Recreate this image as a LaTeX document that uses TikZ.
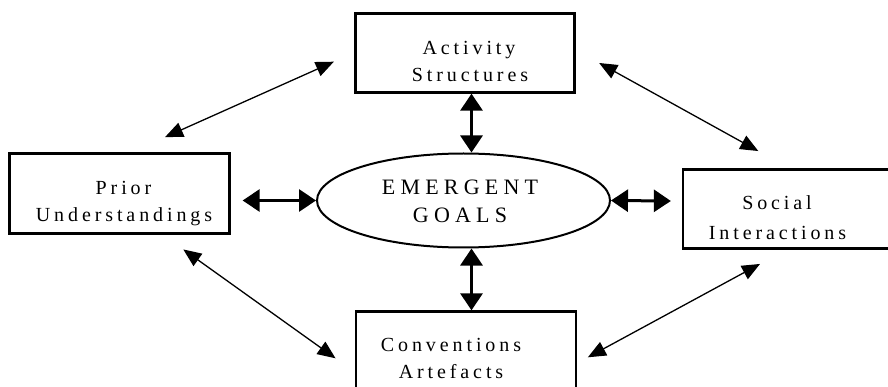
\documentclass[tikz,border=0pt]{standalone}
\usepackage{fontspec}
\setmainfont{Liberation Serif}
\newfontfamily\boxfont[LetterSpace=19.5]{Liberation Serif}
\newfontfamily\ellfont[LetterSpace=23.6]{Liberation Serif}
\usetikzlibrary{shapes.geometric,arrows.meta,calc}
\tikzset{
  boxnode/.style={draw=black,line width=2.3pt,rectangle,inner sep=0pt,minimum width=219pt,minimum height=79pt},
  ellnode/.style={draw=black,line width=2pt,ellipse,inner sep=0pt,minimum width=293pt,minimum height=94pt},
  btxt/.style={anchor=base,inner sep=0pt,font=\boxfont\fontsize{20pt}{24pt}\selectfont},
  etxt/.style={anchor=base,inner sep=0pt,font=\ellfont\fontsize{22pt}{26pt}\selectfont},
  thickarr/.style={line width=3pt,{Triangle[length=17pt,width=22pt]}-{Triangle[length=17pt,width=22pt]}},
  thinarr/.style={line width=1.3pt,{Triangle[length=18pt,width=15pt]}-{Triangle[length=18pt,width=15pt]}}
}
\begin{document}
\begin{tikzpicture}[x=1pt,y=-1pt]
\useasboundingbox (0,0) rectangle (888,387);
\clip (0,0) rectangle (888,387);
% boxes
\node[boxnode] (act) at (465,53) {};
\node[boxnode,minimum width=220pt,minimum height=80pt] (prior) at (119.5,193.5) {};
\node[boxnode,minimum width=220pt] (soc) at (793,209) {};
\node[boxnode,minimum width=220pt] (conv) at (466,351) {};
\node[ellnode] (ell) at (463.5,200.5) {};
% texts
\node[btxt] (act1) at (469,55) {Activity};
\node[btxt] (act2) at (470,82) {Structures};
\node[btxt] (pri1) at (123.5,195) {Prior};
\node[btxt] (pri2) at (124,221.7) {Understandings};
\node[btxt] (soc1) at (777,210) {Social};
\node[btxt] (soc2) at (777.5,239.3) {Interactions};
\node[btxt] (con1) at (451,351.7) {Conventions};
\node[btxt] (con2) at (451,378) {Artefacts};
\node[etxt] (ell1) at (460,195) {EMERGENT};
\node[etxt] (ell2) at (460,223) {GOALS};
% thick arrows
\draw[thickarr] ($(act.south)+(6.5,0)$) -- ($(ell.north)+(8,0)$);
\draw[thickarr] ($(ell.south)+(8,0)$) -- ($(conv.north)+(5.5,0)$);
\draw[thickarr] ($(prior.east)+(12,7)$) -- (ell.west);
\draw[thickarr] (ell.east) -- ($(soc.west)+(-11,-8)$);
% thin arrows
\coordinate (pa1) at ($(prior.north)+(45.5,-15.2)$);
\coordinate (pa2) at ($(act.west)+(-20.5,8.7)$);
\coordinate (as1) at ($(act.east)+(23.5,10)$);
\coordinate (as2) at ($(soc.north)+(-34.7,-17.3)$);
\coordinate (pc1) at ($(prior.south)+(63.8,14.8)$);
\coordinate (pc2) at ($(conv.west)+(-19.3,7.3)$);
\coordinate (cs1) at ($(conv.east)+(10.7,6.3)$);
\coordinate (cs2) at ($(soc.south)+(-33,14.3)$);
\draw[thinarr] (pa1) -- (pa2);
\draw[thinarr] (as1) -- (as2);
\draw[thinarr] (pc1) -- (pc2);
\draw[thinarr] (cs1) -- (cs2);
\end{tikzpicture}
\end{document}
